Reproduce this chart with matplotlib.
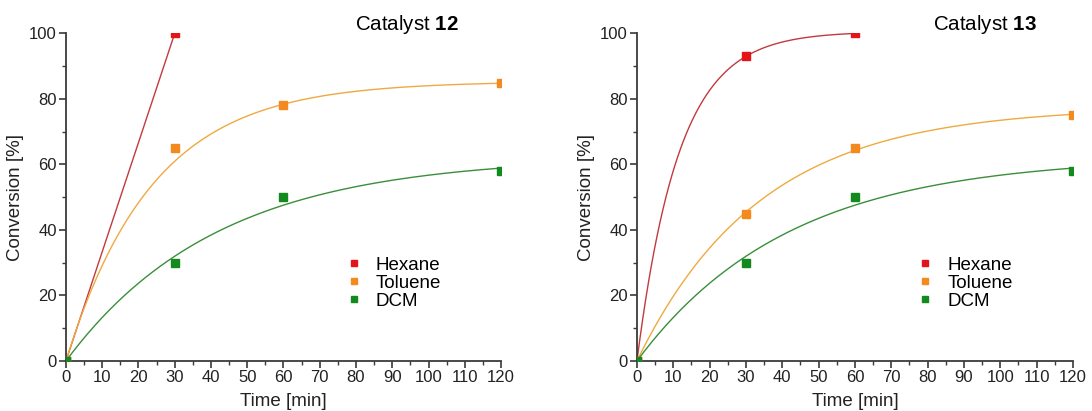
import numpy as np
import matplotlib.pyplot as plt
from matplotlib.ticker import MultipleLocator

plt.rcParams['font.family'] = ['Liberation Sans', 'DejaVu Sans']
plt.rcParams['mathtext.fontset'] = 'custom'
plt.rcParams['mathtext.bf'] = 'Liberation Sans:bold'

# Sampling times [min] and conversions [%] per solvent
solvents = ['Hexane', 'Toluene', 'DCM']

cat12_hexane_t = [0, 30]
cat12_hexane_y = [0, 100]
cat12_toluene_t = [0, 30, 60, 120]
cat12_toluene_y = [0, 65, 78, 85]
cat12_dcm_t = [0, 30, 60, 120]
cat12_dcm_y = [0, 30, 50, 58]

cat13_hexane_t = [0, 30, 60]
cat13_hexane_y = [0, 93, 100]
cat13_toluene_t = [0, 30, 60, 120]
cat13_toluene_y = [0, 45, 65, 75]
cat13_dcm_t = [0, 30, 60, 120]
cat13_dcm_y = [0, 30, 50, 58]

# fit weights (the 30 min toluene point for catalyst 12 is treated as an outlier)
cat12_toluene_w = [1, 0.05, 1, 1]

marker_colors = {'Hexane': '#e3151b', 'Toluene': '#f48a1e', 'DCM': '#138a1e'}
line_colors = {'Hexane': '#c23a3e', 'Toluene': '#eeaa40', 'DCM': '#3a8e3a'}


def fit_first_order(t, y, w=None):
    """Fit y = A*(1 - exp(-k t)) by scanning k and solving A in closed form."""
    t = np.asarray(t, float)
    y = np.asarray(y, float)
    w = np.ones_like(t) if w is None else np.asarray(w, float)
    best = None
    for k in np.linspace(0.001, 0.3, 3000):
        f = 1 - np.exp(-k * t)
        A = (w * f @ y) / (w * f @ f)
        err = np.sum(w * (y - A * f) ** 2)
        if best is None or err < best[0]:
            best = (err, A, k)
    return best[1], best[2]


def style_axes(ax):
    ax.set_xlim(0, 120)
    ax.set_ylim(0, 100)
    ax.spines['top'].set_visible(False)
    ax.spines['right'].set_visible(False)
    for s in ('left', 'bottom'):
        ax.spines[s].set_linewidth(1.3)
        ax.spines[s].set_color('#3a3a3a')
    ax.xaxis.set_major_locator(MultipleLocator(10))
    ax.xaxis.set_minor_locator(MultipleLocator(5))
    ax.yaxis.set_major_locator(MultipleLocator(20))
    ax.yaxis.set_minor_locator(MultipleLocator(10))
    ax.tick_params(which='major', length=5, width=1.2, color='#3a3a3a',
                   labelsize=12, labelcolor='#222222', pad=1.5)
    ax.tick_params(which='minor', length=3, width=1.0, color='#3a3a3a')
    ax.set_xlabel('Time [min]', fontsize=13.5, color='#222222', labelpad=6)
    ax.set_ylabel('Conversion [%]', fontsize=13.5, color='#222222', labelpad=4)


def draw_panel(ax, series, number, title_x, straight_hexane=False):
    for name, t, y, w in series:
        if name == 'Hexane' and straight_hexane:
            ax.plot(t, y, color=line_colors[name], lw=1.0, zorder=2)
        else:
            A, k = fit_first_order(t, y, w)
            tt = np.linspace(0, max(t), 300)
            ax.plot(tt, A * (1 - np.exp(-k * tt)), color=line_colors[name],
                    lw=1.0, zorder=2)
        ax.plot(t, y, ls='none', marker='s', ms=5.5, color=marker_colors[name],
                mec=marker_colors[name], label=name, zorder=3)
    ax.text(title_x, 1.026, 'Catalyst $\\mathbf{%d}$' % number,
            transform=ax.transAxes, ha='center', va='center', fontsize=14.8)
    leg = ax.legend(loc='upper left', bbox_to_anchor=(0.627, 0.347),
                    frameon=False, fontsize=13.5, handlelength=0.6,
                    handletextpad=0.87, labelspacing=0.05, borderpad=0)
    for h in leg.legend_handles:
        h.set_markersize(5)
    style_axes(ax)


fig = plt.figure(figsize=(10.92, 4.11), dpi=100)
ax1 = fig.add_axes([0.0604, 0.1217, 0.3984, 0.797])
ax2 = fig.add_axes([0.5833, 0.1217, 0.3993, 0.797])

draw_panel(ax1, [('Hexane', cat12_hexane_t, cat12_hexane_y, None),
                 ('Toluene', cat12_toluene_t, cat12_toluene_y, cat12_toluene_w),
                 ('DCM', cat12_dcm_t, cat12_dcm_y, None)], 12, 0.784,
           straight_hexane=True)
draw_panel(ax2, [('Hexane', cat13_hexane_t, cat13_hexane_y, None),
                 ('Toluene', cat13_toluene_t, cat13_toluene_y, None),
                 ('DCM', cat13_dcm_t, cat13_dcm_y, None)], 13, 0.798)

fig.savefig('out.png', dpi=100)
